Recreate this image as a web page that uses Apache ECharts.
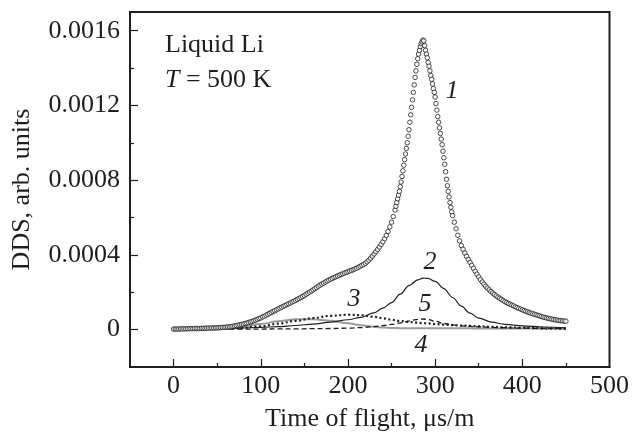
<!DOCTYPE html>
<html>
<head>
<meta charset="utf-8">
<script src="https://cdn.jsdelivr.net/npm/echarts@6/dist/echarts.min.js"></script>
<style>
  html, body { margin: 0; padding: 0; background: #fff; }
  #upstream { width: 632px; height: 437px; }
</style>
</head>
<body>
<div id="upstream"></div>
<script>
  // all DDS values below are in units of 1e-4 arb. units
  const SCALE = 1e-4;

  // 1: measured points
  const flightTime1 = [
    0, 2, 4, 6, 8, 10, 12, 14, 16, 18, 20, 22, 24, 26, 28, 30, 32, 34, 36, 38,
    40, 42, 44, 46, 48, 50, 52, 54, 56, 58, 60, 62, 64, 66, 68, 70, 72, 74, 76, 78,
    80, 82, 84, 86, 88, 90, 92, 94, 96, 98, 100, 102, 104, 106, 108, 110, 112, 114, 116, 118,
    120, 122, 124, 126, 128, 130, 132, 134, 136, 138, 140, 142, 144, 146, 148, 150, 152, 154, 156, 158,
    160, 162, 164, 166, 168, 170, 172, 174, 176, 178, 180, 182, 184, 186, 188, 190, 192, 194, 196, 198,
    200, 202, 204, 206, 208, 210, 212, 214, 216, 218, 220, 222, 224, 226, 228, 230, 232, 234, 236, 238,
    240, 242, 244, 246, 248, 250, 252,
    254, 255, 256, 257, 258, 259, 260, 261, 262, 263, 264, 265, 266, 267, 268, 269, 270, 271, 272, 273,
    274, 275, 276, 277, 278, 279, 280, 281, 282, 283, 284, 285, 286, 287, 288, 289, 290, 291, 292, 293,
    294, 295, 296, 297, 298, 299, 300, 301, 302, 303, 304, 305, 306, 307, 308, 309, 310, 311, 312, 313,
    314, 315, 316, 317, 318, 319, 320,
    322, 324, 326, 328, 330, 332, 334, 336, 338, 340, 342, 344, 346, 348, 350, 352, 354, 356, 358, 360,
    362, 364, 366, 368, 370, 372, 374, 376, 378, 380,
    382, 384, 386, 388, 390, 392, 394, 396, 398, 400, 402, 404, 406, 408, 410, 412, 414, 416, 418, 420,
    422, 424, 426, 428, 430, 432, 434, 436, 438, 440, 442, 444, 446, 448, 450
  ];
  const dds1 = [
    0.03, 0.03, 0.03, 0.03, 0.04, 0.04, 0.04, 0.04, 0.05, 0.05, 0.05, 0.05, 0.06, 0.06, 0.06, 0.06, 0.07, 0.07, 0.07, 0.08,
    0.08, 0.08, 0.09, 0.09, 0.09, 0.10, 0.10, 0.11, 0.12, 0.12, 0.13, 0.14, 0.15, 0.16, 0.18, 0.20, 0.22, 0.24, 0.26, 0.28,
    0.30, 0.33, 0.35, 0.38, 0.41, 0.44, 0.48, 0.51, 0.55, 0.59, 0.63, 0.68, 0.72, 0.77, 0.82, 0.87, 0.92, 0.97, 1.01, 1.06,
    1.11, 1.16, 1.20, 1.25, 1.29, 1.34, 1.39, 1.43, 1.48, 1.52, 1.57, 1.62, 1.67, 1.72, 1.77, 1.83, 1.89, 1.95, 2.01, 2.07,
    2.13, 2.19, 2.25, 2.32, 2.38, 2.44, 2.49, 2.55, 2.60, 2.65, 2.70, 2.74, 2.79, 2.83, 2.87, 2.91, 2.95, 2.99, 3.03, 3.06,
    3.10, 3.14, 3.17, 3.21, 3.25, 3.29, 3.34, 3.39, 3.44, 3.49, 3.55, 3.63, 3.72, 3.82, 3.93, 4.05, 4.17, 4.29, 4.42, 4.56,
    4.70, 4.86, 5.05, 5.25, 5.50, 5.75, 6.05,
    6.40, 6.60, 6.80, 7.00, 7.20, 7.40, 7.65, 7.90, 8.20, 8.50, 8.80, 9.10, 9.40, 9.70, 10.0, 10.35, 10.7, 11.1, 11.5, 11.9,
    12.3, 12.7, 13.1, 13.5, 13.85, 14.2, 14.5, 14.75, 14.95, 15.15, 15.3, 15.4, 15.5, 15.45, 15.2, 14.95, 14.75, 14.55, 14.3, 14.1,
    13.85, 13.6, 13.4, 13.15, 12.9, 12.7, 12.45, 12.1, 11.75, 11.4, 11.1, 10.8, 10.5, 10.2, 9.9, 9.55, 9.2, 8.85, 8.45, 8.05,
    7.7, 7.4, 7.1, 6.8, 6.55, 6.3, 6.1,
    5.75, 5.4, 5.05, 4.75, 4.5, 4.3, 4.1, 3.92, 3.76, 3.6, 3.44, 3.28, 3.12, 2.97, 2.82, 2.68, 2.55, 2.43, 2.32, 2.22,
    2.13, 2.04, 1.96, 1.88, 1.81, 1.74, 1.68, 1.62, 1.56, 1.50,
    1.45, 1.40, 1.36, 1.31, 1.27, 1.22, 1.18, 1.14, 1.10, 1.06, 1.02, 0.98, 0.95, 0.91, 0.88, 0.85, 0.82, 0.79, 0.76, 0.73,
    0.70, 0.67, 0.65, 0.62, 0.60, 0.58, 0.56, 0.54, 0.52, 0.51, 0.49, 0.48, 0.47, 0.46, 0.45
  ];

  // 2-5: fitted components, on a common time grid
  const fitTime = [0, 25, 50, 75, 100, 120, 140, 160, 180, 200, 215, 230, 240, 250, 260, 270, 280, 286, 292, 300,
    310, 320, 330, 340, 350, 365, 380, 400, 425, 450];
  const dds2 = [0.02, 0.03, 0.05, 0.08, 0.12, 0.16, 0.22, 0.30, 0.40, 0.53, 0.66, 0.90, 1.15, 1.45, 1.90, 2.36, 2.66, 2.76, 2.74, 2.58,
    2.20, 1.72, 1.26, 0.88, 0.62, 0.40, 0.28, 0.20, 0.14, 0.10];
  const dds3 = [0.00, 0.01, 0.03, 0.08, 0.18, 0.32, 0.47, 0.62, 0.74, 0.80, 0.77, 0.69, 0.61, 0.53, 0.46, 0.41, 0.37, 0.35, 0.33, 0.30,
    0.27, 0.24, 0.22, 0.20, 0.18, 0.15, 0.12, 0.10, 0.07, 0.05];
  const dds4 = [0.02, 0.03, 0.07, 0.15, 0.30, 0.45, 0.55, 0.56, 0.48, 0.34, 0.23, 0.15, 0.11, 0.09, 0.08, 0.08, 0.08, 0.08, 0.08, 0.07,
    0.07, 0.07, 0.07, 0.07, 0.06, 0.06, 0.06, 0.06, 0.05, 0.05];
  const dds5 = [0.02, 0.02, 0.03, 0.03, 0.03, 0.04, 0.04, 0.05, 0.06, 0.08, 0.11, 0.16, 0.21, 0.28, 0.36, 0.46, 0.55, 0.57, 0.54, 0.45,
    0.33, 0.25, 0.20, 0.17, 0.15, 0.12, 0.10, 0.08, 0.07, 0.06];

  // ticks
  const xMajorTicks = [0, 100, 200, 300, 400, 500];
  const xMinorTicks = [50, 150, 250, 350, 450];
  const yMajorTicks = [0, 0.0004, 0.0008, 0.0012, 0.0016];
  const yMinorTicks = [0.0002, 0.0006, 0.001, 0.0014];

  const FONT = '"Liberation Serif", "Times New Roman", serif';
  const INK = '#1e1e1e';

  function pairs(xs, ys) {
    return xs.map(function (x, i) { return [x, ys[i] * SCALE]; });
  }

  function fitLine(name, ys, lineStyle) {
    return {
      name: name,
      type: 'line',
      data: pairs(fitTime, ys),
      smooth: 0.35,
      smoothMonotone: 'x',
      showSymbol: false,
      lineStyle: lineStyle,
      z: 3
    };
  }

  let myChart = echarts.init(document.getElementById('upstream'), null, {renderer: 'canvas'});

  let option = {
    animation: false,
    backgroundColor: '#fff',
    textStyle: {fontFamily: FONT, color: INK},
    grid: {
      left: 130, right: 22, top: 12, bottom: 69,
      show: true,
      borderColor: INK,
      borderWidth: 2
    },
    xAxis: [
      {
        type: 'value', min: -50, max: 500, position: 'bottom',
        name: 'Time of flight, \u03bcs/m',
        nameLocation: 'middle', nameGap: 39,
        nameTextStyle: {fontFamily: FONT, fontSize: 26, color: INK},
        axisLine: {show: true, onZero: false, lineStyle: {color: INK, width: 2}},
        axisTick: {show: true, inside: true, length: 8, customValues: xMajorTicks.slice(0, 5), lineStyle: {color: INK, width: 1.2}},
        axisLabel: {customValues: xMajorTicks, margin: 6, fontFamily: FONT, fontSize: 26, color: INK},
        splitLine: {show: false}
      },
      {
        type: 'value', min: -50, max: 500, position: 'bottom',
        axisLine: {show: false, onZero: false},
        axisTick: {show: true, inside: true, length: 4, customValues: xMinorTicks, lineStyle: {color: INK, width: 1.2}},
        axisLabel: {show: false},
        splitLine: {show: false}
      }
    ],
    yAxis: [
      {
        type: 'value', min: -0.0002, max: 0.0017, position: 'left',
        name: 'DDS, arb. units',
        nameLocation: 'middle', nameGap: 95,
        nameTextStyle: {fontFamily: FONT, fontSize: 26, color: INK},
        axisLine: {show: true, onZero: false, lineStyle: {color: INK, width: 2}},
        axisTick: {show: true, inside: true, length: 8, customValues: yMajorTicks, lineStyle: {color: INK, width: 1.2}},
        axisLabel: {
          customValues: yMajorTicks, margin: 10, fontFamily: FONT, fontSize: 26, color: INK,
          formatter: function (v) { return v === 0 ? '0' : v.toFixed(4); }
        },
        splitLine: {show: false}
      },
      {
        type: 'value', min: -0.0002, max: 0.0017, position: 'left',
        axisLine: {show: false, onZero: false},
        axisTick: {show: true, inside: true, length: 4, customValues: yMinorTicks, lineStyle: {color: INK, width: 1.2}},
        axisLabel: {show: false},
        splitLine: {show: false}
      }
    ],
    series: [
      fitLine('4', dds4, {color: '#9c9c9c', width: 2}),
      fitLine('5', dds5, {color: INK, width: 1.3, type: [5, 3]}),
      fitLine('3', dds3, {color: INK, width: 2.2, type: [2, 2.5]}),
      fitLine('2', dds2, {color: INK, width: 1.2}),
      {
        name: '1',
        type: 'scatter',
        data: pairs(flightTime1, dds1),
        symbol: 'circle',
        symbolSize: 4.5,
        itemStyle: {color: '#fff', borderColor: INK, borderWidth: 1},
        z: 5
      }
    ],
    graphic: [
      {type: 'text', left: 165, top: 32, style: {text: 'Liquid Li', font: '26px ' + FONT, fill: INK}},
      {
        type: 'text', left: 165, top: 67,
        style: {
          text: '{i|T} = 500 K',
          font: '26px ' + FONT,
          fill: INK,
          rich: {i: {fontStyle: 'italic', fontFamily: FONT, fontSize: 26}}
        }
      },
      {type: 'text', x: 452, y: 91, style: {text: '1', font: 'italic 26px ' + FONT, fill: INK, align: 'center', verticalAlign: 'middle'}},
      {type: 'text', x: 430, y: 262, style: {text: '2', font: 'italic 26px ' + FONT, fill: INK, align: 'center', verticalAlign: 'middle'}},
      {type: 'text', x: 354, y: 299, style: {text: '3', font: 'italic 26px ' + FONT, fill: INK, align: 'center', verticalAlign: 'middle'}},
      {type: 'text', x: 421, y: 345, style: {text: '4', font: 'italic 26px ' + FONT, fill: INK, align: 'center', verticalAlign: 'middle'}},
      {type: 'text', x: 425, y: 304, style: {text: '5', font: 'italic 26px ' + FONT, fill: INK, align: 'center', verticalAlign: 'middle'}}
    ]
  };

  myChart.setOption(option);
</script>
</body>
</html>
